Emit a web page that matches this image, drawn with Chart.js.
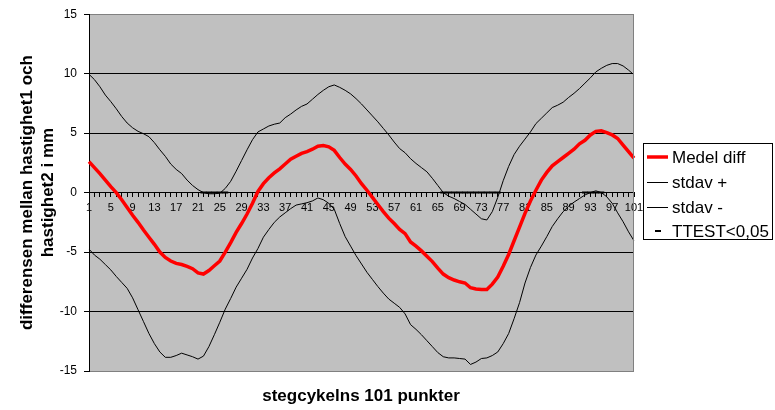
<!DOCTYPE html>
<html>
<head>
<meta charset="utf-8">
<script src="https://cdn.jsdelivr.net/npm/chart.js@4.4.1/dist/chart.umd.min.js"></script>
<style>
  html, body { margin: 0; padding: 0; background: #fff; }
  #wrap { position: relative; width: 775px; height: 410px; }
</style>
</head>
<body>
<div id="wrap"><canvas id="c" width="775" height="410"></canvas></div>
<script>
// Step-cycle points 1..101
const steps = [];
for (let i = 1; i <= 101; i++) steps.push(String(i));

// Mean difference between speed 1 and speed 2 (mm)
const medelDiff = [
  2.6, 2.1, 1.6, 1.05, 0.5, 0.0, -0.6, -1.25, -1.9, -2.5,
  -3.15, -3.75, -4.35, -5.0, -5.45, -5.75, -5.95, -6.05, -6.2, -6.4,
  -6.75, -6.85, -6.55, -6.15, -5.75, -5.0, -4.2, -3.35, -2.6, -1.8,
  -0.9, 0.1, 0.75, 1.25, 1.65, 2.0, 2.4, 2.8, 3.05, 3.3,
  3.45, 3.65, 3.9, 3.95, 3.85, 3.55, 2.95, 2.4, 1.95, 1.4,
  0.75, 0.2, -0.4, -1.0, -1.6, -2.15, -2.6, -3.1, -3.45, -4.15,
  -4.5, -4.9, -5.35, -5.8, -6.35, -6.85, -7.15, -7.35, -7.5, -7.6,
  -8.0, -8.1, -8.15, -8.15, -7.7, -7.1, -6.2, -5.2, -4.05, -2.9,
  -1.75, -0.7, 0.2, 1.05, 1.7, 2.25, 2.6, 2.95, 3.3, 3.65,
  4.1, 4.4, 4.85, 5.15, 5.2, 5.05, 4.85, 4.55, 4.0, 3.45,
  2.9
];

// Mean + one standard deviation
const stdavPlus = [
  9.95, 9.5, 8.9, 8.2, 7.65, 7.05, 6.4, 5.85, 5.45, 5.15,
  4.95, 4.7, 4.2, 3.6, 3.05, 2.4, 1.95, 1.6, 1.05, 0.6,
  0.25, 0.0, -0.1, -0.1, -0.05, 0.35, 0.95, 1.8, 2.7, 3.6,
  4.45, 5.1, 5.35, 5.6, 5.75, 5.85, 6.3, 6.6, 6.95, 7.25,
  7.45, 7.85, 8.25, 8.6, 8.9, 9.05, 8.85, 8.6, 8.3, 7.9,
  7.45, 6.95, 6.45, 5.95, 5.4, 4.85, 4.25, 3.7, 3.35, 2.85,
  2.45, 2.1, 1.75, 1.2, 0.6, 0.0, -0.3, -0.5, -0.75, -1.0,
  -1.4, -1.8, -2.2, -2.3, -1.6, -0.4, 1.0, 2.2, 3.2, 3.9,
  4.5, 5.1, 5.8, 6.25, 6.7, 7.15, 7.35, 7.6, 8.0, 8.35,
  8.75, 9.2, 9.65, 10.15, 10.45, 10.7, 10.85, 10.85, 10.65, 10.3,
  9.9
];

// Mean - one standard deviation
const stdavMinus = [
  -4.75, -5.25, -5.6, -6.05, -6.5, -7.05, -7.55, -8.05, -8.85, -9.85,
  -10.85, -11.85, -12.7, -13.4, -13.85, -13.85, -13.7, -13.5, -13.65, -13.8,
  -14.0, -13.75, -12.95, -11.95, -10.9, -9.8, -8.9, -7.95, -7.2, -6.45,
  -5.5, -4.7, -3.75, -3.1, -2.5, -2.05, -1.7, -1.35, -1.05, -0.95,
  -0.85, -0.7, -0.45, -0.6, -0.9, -1.4, -2.6, -3.7, -4.5, -5.3,
  -6.0, -6.7, -7.3, -7.9, -8.45, -8.95, -9.3, -9.65, -10.2, -11.1,
  -11.5, -11.95, -12.45, -12.95, -13.45, -13.8, -13.9, -13.9, -13.95, -14.0,
  -14.45, -14.25, -13.95, -13.9, -13.7, -13.4, -12.7, -11.85, -10.6, -9.25,
  -7.6, -6.3, -5.25, -4.5, -3.7, -2.85, -2.2, -1.6, -1.15, -0.8,
  -0.5, -0.2, 0.0, 0.15, 0.0, -0.35, -0.9, -1.7, -2.45, -3.3,
  -4.05
];

// Steps where the t-test gives p < 0.05 (marked on the zero line)
const ttestSteps = [22, 23, 24, 25, 26,
  66, 67, 68, 69, 70, 71, 72, 73, 74, 75, 76,
  92, 93, 94, 95];

const seriesLabels = ['Medel diff', 'stdav +', 'stdav -', 'TTEST<0,05'];
const yAxisTitle = ['differensen mellan hastighet1 och', 'hastighet2 i mm'];
const xAxisTitle = 'stegcykelns 101 punkter';

const ttestData = steps.map(s => ttestSteps.includes(Number(s)) ? 0 : null);

const FONT = '"Liberation Sans", Arial, sans-serif';

// Grey plot background
const plotBackground = {
  id: 'plotBackground',
  beforeDraw(chart) {
    const { ctx, chartArea: a } = chart;
    ctx.save();
    ctx.fillStyle = '#C0C0C0';
    ctx.fillRect(a.left, a.top, a.right - a.left, a.bottom - a.top);
    ctx.restore();
  }
};

// Right frame edge, axis titles and the boxed legend
const decorations = {
  id: 'decorations',
  afterDraw(chart) {
    const { ctx, chartArea: a } = chart;
    ctx.save();
    ctx.strokeStyle = '#808080';
    ctx.lineWidth = 1;
    ctx.beginPath();
    ctx.moveTo(Math.round(a.right) - 0.5, a.top);
    ctx.lineTo(Math.round(a.right) - 0.5, a.bottom);
    ctx.stroke();

    // Axis titles
    ctx.fillStyle = '#000';
    ctx.font = 'bold 17px ' + FONT;
    ctx.textAlign = 'center';
    ctx.textBaseline = 'middle';
    ctx.fillText(xAxisTitle, 361, 396);

    ctx.save();
    ctx.translate(0, (a.top + a.bottom) / 2);
    ctx.rotate(-Math.PI / 2);
    ctx.fillText(yAxisTitle[0], 0, 27);
    ctx.fillText(yAxisTitle[1], 0, 48);
    ctx.restore();

    // Legend
    const lx = 643.5, ly = 143.5, lw = 129, lh = 96;
    ctx.fillStyle = '#fff';
    ctx.fillRect(lx, ly, lw, lh);
    ctx.strokeStyle = '#000';
    ctx.lineWidth = 1;
    ctx.strokeRect(lx, ly, lw, lh);

    const rows = [157, 182, 207, 231];
    chart.data.datasets.forEach((ds, i) => {
      const y = rows[i];
      ctx.strokeStyle = ds.borderColor;
      if (ds.showLine === false) {
        ctx.lineWidth = 2;
        ctx.beginPath();
        ctx.moveTo(655, y);
        ctx.lineTo(661, y);
        ctx.stroke();
      } else {
        ctx.lineWidth = ds.borderWidth;
        ctx.beginPath();
        ctx.moveTo(647, y + (ds.borderWidth > 1 ? 0 : 0.5));
        ctx.lineTo(668, y + (ds.borderWidth > 1 ? 0 : 0.5));
        ctx.stroke();
      }
      ctx.fillStyle = '#000';
      ctx.font = '17px ' + FONT;
      ctx.textAlign = 'left';
      ctx.textBaseline = 'middle';
      ctx.fillText(ds.label, 672, y + 1);
    });
    ctx.restore();
  }
};

new Chart(document.getElementById('c'), {
  type: 'line',
  data: {
    labels: steps,
    datasets: [
      { label: seriesLabels[0], data: medelDiff, borderColor: '#FF0000', borderWidth: 3.5,
        pointRadius: 0, tension: 0, fill: false },
      { label: seriesLabels[1], data: stdavPlus, borderColor: '#000000', borderWidth: 1,
        pointRadius: 0, tension: 0, fill: false },
      { label: seriesLabels[2], data: stdavMinus, borderColor: '#000000', borderWidth: 1,
        pointRadius: 0, tension: 0, fill: false },
      { label: seriesLabels[3], data: ttestData, borderColor: '#000000', backgroundColor: '#000000',
        showLine: false, pointStyle: 'line', pointRadius: 3, pointBorderWidth: 2, borderWidth: 2 }
    ]
  },
  options: {
    responsive: false,
    animation: false,
    devicePixelRatio: 1,
    layout: { padding: { top: 12, bottom: 39, right: 141, left: 0 } },
    plugins: { legend: { display: false }, tooltip: { enabled: false } },
    scales: {
      x: {
        type: 'category',
        position: { y: 0 },
        offset: false,
        grid: { drawOnChartArea: false, drawTicks: true, tickLength: 4, color: '#000', offset: false },
        border: { display: true, color: '#000', width: 1 },
        ticks: {
          autoSkip: false, maxRotation: 0, minRotation: 0, padding: 5,
          color: '#000', font: { family: FONT, size: 11 },
          callback(value, index) { return index % 4 === 0 ? steps[index] : ''; }
        }
      },
      y: {
        min: -15, max: 15,
        grid: {
          color: (c) => (c.tick && Math.abs(c.tick.value) === 15) ? '#808080' : '#000',
          tickColor: '#000', tickLength: 5, lineWidth: 1
        },
        border: { display: true, color: '#000', width: 1 },
        ticks: { stepSize: 5, padding: 7, color: '#000', font: { family: FONT, size: 12 } },
        afterFit(scale) { scale.width = 89; }
      }
    }
  },
  plugins: [plotBackground, decorations]
});
</script>
</body>
</html>
